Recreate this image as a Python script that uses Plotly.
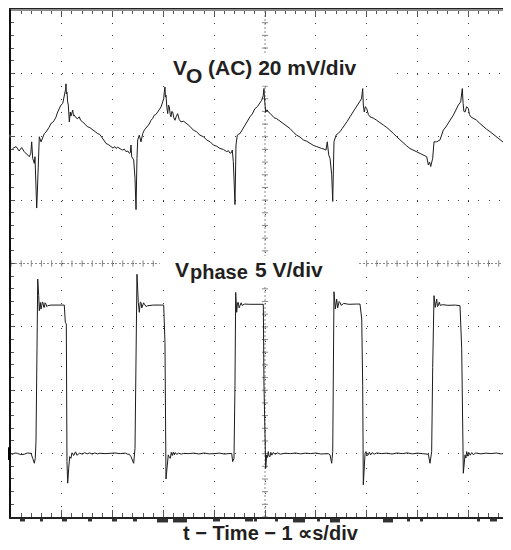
import plotly.graph_objects as go

# ---------------- data ----------------
# time base 1 us/div ; VO (AC) 20 mV/div ; Vphase 5 V/div
vo_time_us = [
    0.03, 0.10, 0.16, 0.21, 0.26, 0.33, 0.36, 0.39, 0.407, 0.427, 0.459, 0.472, 0.492, 0.506, 0.515, 0.526,
    0.537, 0.557, 0.591, 0.624, 0.656, 0.69, 0.722, 0.75, 0.787, 0.82, 0.852, 0.88, 0.919, 0.951, 0.984,
    1.018, 1.049, 1.075, 1.083, 1.090, 1.102, 1.115, 1.128, 1.148, 1.167, 1.180, 1.195, 1.215, 1.230,
    1.246, 1.28, 1.313, 1.344, 1.37, 1.411, 1.45, 1.48, 1.510, 1.55, 1.608, 1.65, 1.707, 1.75, 1.805,
    1.83, 1.870, 1.92, 1.969, 2.01, 2.04, 2.067, 2.10, 2.132, 2.17, 2.199, 2.23, 2.264, 2.30, 2.329,
    2.350, 2.362, 2.376, 2.415, 2.441, 2.461, 2.470, 2.480, 2.494, 2.526, 2.559, 2.593, 2.624, 2.66,
    2.691, 2.72, 2.756, 2.79, 2.821, 2.85, 2.888, 2.92, 2.953, 2.986, 3.005, 3.018, 3.031, 3.040, 3.051,
    3.070, 3.085, 3.100, 3.116, 3.135, 3.150, 3.165, 3.183, 3.205, 3.228, 3.255, 3.281, 3.31, 3.346,
    3.40, 3.459, 3.52, 3.589, 3.65, 3.720, 3.79, 3.852, 3.92, 3.982, 4.05, 4.114, 4.18, 4.246, 4.28,
    4.311, 4.340, 4.356, 4.376, 4.392, 4.409, 4.429, 4.455, 4.480, 4.508, 4.56, 4.606, 4.65, 4.705,
    4.75, 4.803, 4.850, 4.902, 4.935, 4.965, 4.980, 4.990, 5.000, 5.014, 5.040, 5.065, 5.100, 5.132,
    5.18, 5.230, 5.30, 5.360, 5.43, 5.492, 5.56, 5.624, 5.69, 5.754, 5.82, 5.886, 5.95, 6.018, 6.07,
    6.116, 6.16, 6.201, 6.226, 6.254, 6.280, 6.313, 6.333, 6.358, 6.398, 6.44, 6.476, 6.52, 6.575,
    6.62, 6.673, 6.72, 6.772, 6.82, 6.870, 6.900, 6.923, 6.935, 6.955, 6.975, 7.002, 7.035, 7.067,
    7.13, 7.199, 7.26, 7.329, 7.40, 7.461, 7.53, 7.593, 7.66, 7.722, 7.79, 7.854, 7.92, 7.986, 8.04,
    8.085, 8.13, 8.183, 8.215, 8.240, 8.262, 8.301, 8.327, 8.380, 8.445, 8.48, 8.510, 8.56, 8.608,
    8.66, 8.707, 8.76, 8.805, 8.852, 8.870, 8.884, 8.900, 8.915, 8.937, 8.970, 9.002, 9.025, 9.049,
    9.10, 9.167, 9.23, 9.297, 9.36, 9.429, 9.50, 9.561, 9.63, 9.691, 9.76, 9.843,
]
vo_ac_mv = [
    -3.7, -3.1, -4.5, -3.4, -4.7, -5.7, -6.3, -5.2, -1.6, -6.8, -8.4, -6.3, -14.1, -22.5, -19.0, -13.1,
    -4.2, 0.0, -1.6, 0.0, 1.0, 1.5, 2.6, 3.0, 4.2, 4.5, 5.2, 6.0, 7.8, 8.9, 10.0,
    10.5, 12.6, 15.0, 16.7, 13.5, 14.1, 11.0, 10.0, 4.7, 7.8, 6.5, 7.3, 8.4, 6.6,
    6.8, 6.0, 5.7, 6.3, 5.2, 4.7, 4.1, 3.8, 3.1, 2.9, 2.1, 1.8, 1.0, 0.7, -0.5,
    -0.9, -2.1, -2.5, -3.1, -3.6, -3.1, -3.7, -3.3, -3.7, -4.0, -4.2, -3.9, -4.7, -4.5, -5.2,
    -5.0, -2.6, -6.3, -7.3, -13.1, -23.0, -10.0, -6.8, -1.0, 0.5, -1.6, 1.0, 2.1, 2.8,
    3.7, 4.0, 5.2, 5.8, 6.8, 7.0, 7.8, 8.6, 9.4, 11.0, 12.0, 14.1, 15.7, 12.5, 13.1,
    9.0, 7.3, 10.0, 9.4, 7.0, 6.3, 8.0, 7.8, 6.0, 5.2, 6.5, 7.3, 5.5, 4.7,
    4.9, 4.2, 3.3, 2.1, 1.6, 0.5, 0.0, -1.0, -1.6, -2.6, -3.0, -3.7, -4.0, -4.7, -4.4,
    -5.2, -5.0, -4.2, -7.8, -14.0, -21.4, -2.6, 0.5, 0.8, 1.0, 2.4, 3.7, 4.6, 6.3,
    7.2, 8.9, 9.5, 10.5, 11.5, 13.0, 15.2, 12.0, 9.0, 7.8, 8.5, 7.8, 7.4, 6.8,
    6.0, 5.7, 4.9, 4.2, 3.5, 2.6, 1.4, 0.5, -0.1, -1.0, -1.4, -2.1, -2.7, -3.1, -3.5,
    -3.7, -3.9, -4.2, -1.6, -5.7, -6.8, -12.0, -20.4, -1.6, 0.5, 1.0, 1.6, 2.6, 3.7,
    4.9, 6.3, 7.5, 8.9, 9.8, 11.0, 12.0, 15.2, 10.0, 7.8, 9.5, 8.9, 7.0, 6.3,
    5.9, 5.2, 4.6, 3.7, 2.9, 2.1, 1.0, 0.0, -1.0, -2.1, -2.9, -3.7, -4.2, -4.7, -5.2,
    -5.7, -6.0, -6.3, -8.9, -8.0, -9.4, -6.8, -1.6, -1.6, -1.0, 0.8, 2.1, 3.1, 4.2,
    5.6, 6.8, 8.5, 10.0, 11.0, 13.0, 15.2, 10.5, 8.0, 7.8, 9.5, 8.9, 7.0, 6.3,
    5.9, 5.2, 4.2, 3.1, 2.4, 1.6, 0.7, 0.0, -0.8, -1.6, -2.6, -3.9,
]

phase_time_us = [
    0.0, 0.03, 0.08, 0.13, 0.19, 0.26, 0.32, 0.394, 0.427, 0.459, 0.478, 0.492, 0.512, 0.526, 0.545,
    0.557, 0.577, 0.590, 0.604, 0.617, 0.630, 0.643, 0.656, 0.672, 0.689, 0.705, 0.722, 0.787, 0.919,
    1.049, 1.069, 1.089, 1.102, 1.116, 1.136, 1.156, 1.181, 1.198, 1.215, 1.230, 1.246, 1.263, 1.280,
    1.296, 1.313, 1.35, 1.40, 1.45, 1.50, 1.55, 1.60, 1.65, 1.70, 1.75, 1.85, 1.95, 2.05, 2.15, 2.25,
    2.30, 2.329, 2.362, 2.396, 2.415, 2.441, 2.461, 2.480, 2.506, 2.526, 2.545, 2.559, 2.575, 2.593,
    2.610, 2.624, 2.66, 2.691, 2.8, 3.006, 3.018, 3.031, 3.051, 3.071, 3.096, 3.116, 3.136, 3.155,
    3.175, 3.195, 3.215, 3.235, 3.26, 3.30, 3.35, 3.40, 3.50, 3.60, 3.70, 3.80, 3.90, 4.00, 4.10,
    4.20, 4.30, 4.344, 4.364, 4.390, 4.409, 4.423, 4.443, 4.458, 4.474, 4.490, 4.508, 4.530, 4.55,
    4.60, 4.70, 4.85, 4.967, 4.980, 5.000, 5.014, 5.033, 5.050, 5.065, 5.080, 5.098, 5.115, 5.135,
    5.16, 5.20, 5.25, 5.30, 5.40, 5.50, 5.60, 5.70, 5.80, 5.90, 6.00, 6.10, 6.20, 6.246, 6.280,
    6.313, 6.333, 6.344, 6.358, 6.384, 6.411, 6.430, 6.443, 6.460, 6.476, 6.50, 6.55, 6.65, 6.80,
    6.870, 6.904, 6.923, 6.935, 6.955, 6.970, 6.988, 7.010, 7.033, 7.055, 7.08, 7.11, 7.15, 7.20,
    7.30, 7.40, 7.50, 7.60, 7.70, 7.80, 7.90, 8.00, 8.10, 8.215, 8.248, 8.281, 8.301, 8.327, 8.350,
    8.380, 8.395, 8.411, 8.430, 8.450, 8.50, 8.60, 8.75, 8.839, 8.872, 8.892, 8.904, 8.937, 8.955,
    8.970, 8.99, 9.01, 9.04, 9.07, 9.10, 9.15, 9.25, 9.35, 9.45, 9.55, 9.65, 9.75, 9.843,
]
phase_v = [
    0.0, -0.05, 0.05, 0.02, -0.08, -0.05, 0.05, 0.02, -0.37, -0.76, -0.37, 0.94, 8.27, 13.77, 12.46,
    11.28, 11.93, 11.40, 11.67, 11.95, 11.93, 11.55, 11.54, 11.90, 11.80, 11.60, 11.67, 11.72, 11.72,
    11.72, 10.36, 10.23, -0.63, -2.33, -1.15, -0.24, -0.37, 0.05, 0.02, -0.15, -0.10, 0.12, 0.10,
    -0.12, -0.10, 0.05, -0.05, 0.08, -0.02, 0.06, -0.04, 0.06, -0.02, 0.03, 0.0, 0.02, 0.05, 0.0, 0.04,
    -0.05, -0.05, -0.24, -0.63, -0.76, 0.42, 8.27, 14.15, 11.93, 11.15, 11.95, 11.93, 11.50, 11.67,
    11.90, 11.80, 11.60, 11.67, 11.72, 11.72, 8.75, 8.75, -2.0, -0.89, -0.10, -0.30, -0.37, 0.10,
    -0.15, 0.12, -0.10, 0.08, -0.06, 0.04, -0.04, 0.02, 0.0, 0.04, -0.03, 0.05, -0.02, 0.0, 0.04,
    -0.03, 0.02, 0.02, -0.63, -0.37, 5.39, 12.72, 11.15, 11.90, 11.93, 11.50, 11.67, 11.90, 11.70,
    11.80, 11.78, 11.78, 11.78, 5.39, -0.89, -1.15, -0.10, -0.30, 0.16, -0.20, -0.24, 0.10, -0.12,
    0.08, -0.05, 0.06, -0.04, 0.03, 0.0, 0.05, -0.02, 0.04, 0.0, 0.05, -0.03, 0.02, 0.0, -0.10,
    -0.76, 0.16, 6.96, 12.77, 11.41, 12.19, 11.50, 11.67, 12.00, 11.93, 11.70, 11.85, 11.78, 11.80,
    11.80, 10.62, 5.39, -2.46, -0.37, 0.05, 0.16, -0.15, -0.10, 0.12, -0.10, 0.08, -0.04, 0.05,
    0.0, 0.04, -0.03, 0.05, 0.0, 0.06, -0.02, 0.04, 0.0, -0.05, -0.76, 0.16, 6.80, 12.46, 11.54,
    12.19, 11.60, 11.67, 11.95, 11.70, 11.75, 11.70, 11.72, 11.67, 8.27, 2.77, -1.55, -0.10, -0.35,
    0.16, -0.20, 0.10, -0.12, 0.08, -0.08, 0.05, -0.02, 0.04, 0.0, 0.05, -0.02, 0.03, 0.0,
]

vo_label = ["V", "O", "(AC) 20 mV/div"]
phase_label = ["V", "phase", "5 V/div"]
x_title = "t − Time − 1 ∝s/div"

# ---------------- screen setup (divisions) ----------------
VO_MV_PER_DIV = 20.0
PHASE_V_PER_DIV = 5.0
VO_GROUND_DIV = 2.0
PHASE_GROUND_DIV = -3.0
X_VISIBLE_DIV = 500 / 50.8

vo_y = [VO_GROUND_DIV + v / VO_MV_PER_DIV for v in vo_ac_mv]
ph_y = [PHASE_GROUND_DIV + v / PHASE_V_PER_DIV for v in phase_v]

TRACE = "#1c1c1c"
GRID = "#3a3a3a"
CENTER = "#8a8a8a"
TEXT = "#231f20"
FONT = "Liberation Sans, Arial, sans-serif"

fig = go.Figure()
fig.add_trace(go.Scatter(x=vo_time_us, y=vo_y, mode="lines",
                         line=dict(color=TRACE, width=1), hoverinfo="skip", showlegend=False))
fig.add_trace(go.Scatter(x=phase_time_us, y=ph_y, mode="lines",
                         line=dict(color=TRACE, width=1), hoverinfo="skip", showlegend=False))

shapes = []
# centre cross (dotted, with minor ticks)
shapes.append(dict(type="line", xref="x", yref="y", x0=5, x1=5, y0=-4, y1=4,
                   line=dict(color=CENTER, width=1, dash="2px,2px"), layer="between"))
shapes.append(dict(type="line", xref="x", yref="y", x0=0, x1=X_VISIBLE_DIV, y0=0, y1=0,
                   line=dict(color=CENTER, width=1, dash="2px,2px"), layer="between"))
for k in range(-20, 21):
    yy = k * 0.2
    shapes.append(dict(type="line", xref="x", yref="y", x0=5 - 0.06, x1=5 + 0.06, y0=yy, y1=yy,
                       line=dict(color=CENTER, width=1), layer="between"))
for k in range(0, 50):
    xx = k * 0.2
    shapes.append(dict(type="line", xref="x", yref="y", x0=xx, x1=xx, y0=-0.05, y1=0.05,
                       line=dict(color=CENTER, width=1), layer="between"))
# white label backgrounds hiding the graticule
shapes.append(dict(type="rect", xref="x", yref="y", x0=2.83, x1=7.6, y0=2.81, y1=3.32,
                   fillcolor="white", line=dict(width=0), layer="between"))
shapes.append(dict(type="rect", xref="x", yref="y", x0=2.93, x1=6.81, y0=-0.36, y1=0.12,
                   fillcolor="white", line=dict(width=0), layer="between"))
# grey top frame line
shapes.append(dict(type="line", xref="paper", yref="paper", x0=0, x1=1, y0=1, y1=1,
                   line=dict(color="#8c8c8c", width=2), layer="above"))
# channel ground markers / trigger marker
shapes.append(dict(type="rect", xref="paper", yref="y", x0=-0.006, x1=0.0, y0=-3.1, y1=-2.9,
                   fillcolor="black", line=dict(width=0), layer="above"))
shapes.append(dict(type="rect", xref="paper", yref="y", x0=-0.004, x1=0.0, y0=1.99, y1=2.03,
                   fillcolor="#444", line=dict(width=0), layer="above"))
shapes.append(dict(type="rect", xref="paper", yref="y", x0=0.994, x1=0.998, y0=-1.74, y1=-1.68,
                   fillcolor="#222", line=dict(width=0), layer="above"))
# tops of the cropped scope read-out glyphs just under the frame (pixel spans)
readout_spans = [(20, 25), (40, 43), (62, 67), (88, 92), (112, 117), (133, 137), (157, 168),
                 (173, 187), (213, 220), (245, 253), (254, 257), (275, 278), (293, 305),
                 (317, 320), (330, 340), (383, 393), (407, 410), (420, 423), (477, 480),
                 (490, 497), (503, 508)]
for a, b in readout_spans:
    tall = 4 if (b - a) > 9 else 3
    shapes.append(dict(type="rect", xref="paper", yref="paper",
                       x0=(a - 11) / 500, x1=(b - 11) / 500,
                       y0=-(1.5 + tall) / 509, y1=-1.5 / 509,
                       fillcolor="#333", line=dict(width=0), layer="above"))

anns = []
def lab(text, x, y, size):
    anns.append(dict(text=text, x=x, y=y, xref="x", yref="y", xanchor="left", yanchor="middle",
                     showarrow=False, font=dict(family=FONT, size=size, color=TEXT, weight="bold"),
                     borderpad=0))

lab(vo_label[0], 3.17, 3.09, 21)
lab(vo_label[1], 3.43, 2.96, 21)
lab(vo_label[2], 3.86, 3.09, 21)
lab(phase_label[0], 3.21, -0.09, 21)
lab(phase_label[1], 3.50, -0.14, 20)
lab(phase_label[2], 4.78, -0.09, 21)
anns.append(dict(text=x_title, x=0.52, y=-0.032, xref="paper", yref="paper",
                 xanchor="center", yanchor="middle", showarrow=False,
                 font=dict(family=FONT, size=20, color=TEXT, weight="bold")))

# the page places the figure 8 px in from the window's top-left corner
fig.update_layout(
    width=503, height=542,
    margin=dict(l=3, r=0, t=0, b=33),
    paper_bgcolor="white", plot_bgcolor="white",
    shapes=shapes, annotations=anns,
    xaxis=dict(range=[0, X_VISIBLE_DIV], showticklabels=False, zeroline=False,
               showgrid=True, tick0=0, dtick=1, gridcolor=GRID, gridwidth=1,
               griddash="1px,11.72px",
               showline=True, linecolor="#222", linewidth=1.5, mirror="allticks",
               ticks="inside", ticklen=7, tickcolor="#555", tickwidth=1,
               minor=dict(dtick=0.2, tick0=0, ticks="inside", ticklen=4, tickcolor="#555",
                          tickwidth=1, showgrid=False)),
    yaxis=dict(range=[-4, 4], showticklabels=False, zeroline=False,
               showgrid=True, tick0=0, dtick=1, gridcolor=GRID, gridwidth=1,
               griddash="1px,9.16px",
               showline=True, linecolor="#111", linewidth=1.5,
               ticks="inside", ticklen=4, tickcolor="#555", tickwidth=1,
               minor=dict(dtick=0.2, tick0=0, ticks="inside", ticklen=3, tickcolor="#555",
                          tickwidth=1, showgrid=False)),
)

fig.write_html("out.html")
